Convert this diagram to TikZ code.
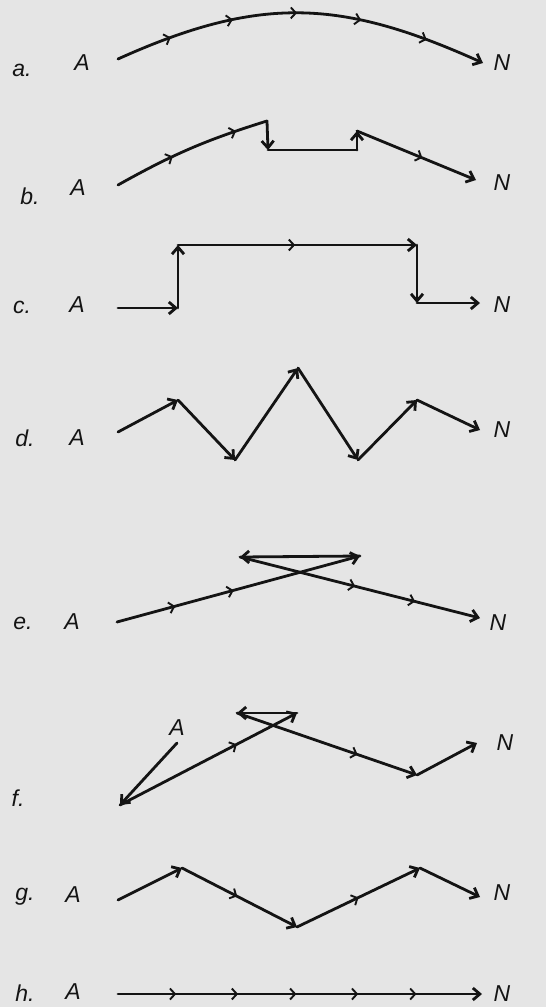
\documentclass[tikz,border=0pt]{standalone}
\usepackage{fontspec}
\setmainfont{Liberation Sans}
\usetikzlibrary{arrows.meta,decorations.markings}
\definecolor{paper}{RGB}{229,229,229}
\definecolor{ink}{RGB}{20,20,20}
\begin{document}
\begin{tikzpicture}[x=1pt,y=-1pt,
  lbl/.style={font=\fontsize{23}{23}\selectfont\itshape, text=ink, inner sep=0pt},
  ln/.style={draw=ink, line width=2.8pt, line cap=round, line join=round},
  tip/.style={-{Straight Barb[length=7pt,width=12pt]}},
  ma/.style={postaction={decorate,decoration={markings,
     mark=at position #1 with {\arrow[ink,line width=1.9pt]{Straight Barb[length=5pt,width=11pt]}}}}}
]
\fill[paper] (0,0) rectangle (546,1007);
\useasboundingbox (0,0) rectangle (546,1007);

% row labels
\node[lbl] (la) at (22,70) {a.};
\node[lbl] (lb) at (30,196) {b.};
\node[lbl] (lc) at (22,307) {c.};
\node[lbl] (ld) at (25,438) {d.};
\node[lbl] (le) at (23,623) {e.};
\node[lbl] (lf) at (18,798) {f.};
\node[lbl] (lg) at (25,897) {g.};
\node[lbl] (lh) at (25,993) {h.};

% A and N
\node[lbl] (Aa) at (82,63) {A};   \node[lbl] (Na) at (502,63) {N};
\node[lbl] (Ab) at (78,188) {A};  \node[lbl] (Nb) at (502,183) {N};
\node[lbl] (Ac) at (77,305) {A};  \node[lbl] (Nc) at (502,305) {N};
\node[lbl] (Ad) at (77,438) {A};  \node[lbl] (Nd) at (502,430) {N};
\node[lbl] (Ae) at (72,622) {A};  \node[lbl] (Ne) at (498,623) {N};
\node[lbl] (Af) at (177,728) {A}; \node[lbl] (Nf) at (505,743) {N};
\node[lbl] (Ag) at (73,895) {A};  \node[lbl] (Ng) at (502,893) {N};
\node[lbl] (Ah) at (73,992) {A};  \node[lbl] (Nh) at (502,994) {N};

% a
\coordinate (a0) at (118,59); \coordinate (a1) at (483,63);
\draw[ln,tip,ma=0.15,ma=0.32,ma=0.49,ma=0.66,ma=0.84] (a0) .. controls (260,-5) and (341,-1) .. (a1);

% b
\coordinate (b0) at (118,185); \coordinate (b1) at (267,121);
\coordinate (b2) at (268,150); \coordinate (b3) at (357,150);
\coordinate (b4) at (357,131); \coordinate (b5) at (476,180);
\draw[ln,ma=0.38,ma=0.8] (b0) to[bend left=6] (b1);
\draw[ln,tip] (b1) -- (b2);
\draw[ln] (b2) -- (b3);
\draw[ln,tip] (b3) -- (b4);
\draw[ln,tip,ma=0.55] (b4) -- (b5);

% c
\coordinate (c0) at (118,308); \coordinate (c1) at (178,308);
\coordinate (c2) at (178,245); \coordinate (c3) at (417,245);
\coordinate (c4) at (417,303); \coordinate (c5) at (480,303);
\draw[ln,tip] (c0) -- (c1);
\draw[ln,tip] (c1) -- (c2);
\draw[ln,tip,ma=0.49] (c2) -- (c3);
\draw[ln,tip] (c3) -- (c4);
\draw[ln,tip] (c4) -- (c5);

% d
\coordinate (d0) at (118,432); \coordinate (d1) at (178,400);
\coordinate (d2) at (235,460); \coordinate (d3) at (298,368);
\coordinate (d4) at (358,460); \coordinate (d5) at (417,400);
\coordinate (d6) at (480,430);
\foreach \p/\q in {d0/d1,d1/d2,d2/d3,d3/d4,d4/d5,d5/d6}
  \draw[ln,tip] (\p) -- (\q);

% e
\coordinate (e0) at (117,622); \coordinate (e1) at (360,556);
\coordinate (e2) at (240,557); \coordinate (e3) at (480,618);
\draw[ln,tip,ma=0.24,ma=0.48] (e0) -- (e1);
\draw[ln,tip] (e1) -- (e2);
\draw[ln,tip,ma=0.48,ma=0.73] (e2) -- (e3);

% f
\coordinate (f0) at (177,743); \coordinate (f1) at (120,805);
\coordinate (f2) at (297,713); \coordinate (f3) at (237,713);
\coordinate (f4) at (417,775); \coordinate (f5) at (477,743);
\draw[ln,tip] (f0) -- (f1);
\draw[ln,tip,ma=0.66] (f1) -- (f2);
\draw[ln,tip] (f2) -- (f3);
\draw[ln,tip,ma=0.67] (f3) -- (f4);
\draw[ln,tip] (f4) -- (f5);

% g
\coordinate (g0) at (118,900); \coordinate (g1) at (182,868);
\coordinate (g2) at (297,927); \coordinate (g3) at (420,868);
\coordinate (g4) at (480,897);
\draw[ln,tip] (g0) -- (g1);
\draw[ln,tip,ma=0.48] (g1) -- (g2);
\draw[ln,tip,ma=0.5] (g2) -- (g3);
\draw[ln,tip] (g3) -- (g4);

% h
\coordinate (h0) at (118,994); \coordinate (h1) at (482,994);
\draw[ln,tip,ma=0.16,ma=0.33,ma=0.49,ma=0.66,ma=0.82] (h0) -- (h1);
\end{tikzpicture}
\end{document}
